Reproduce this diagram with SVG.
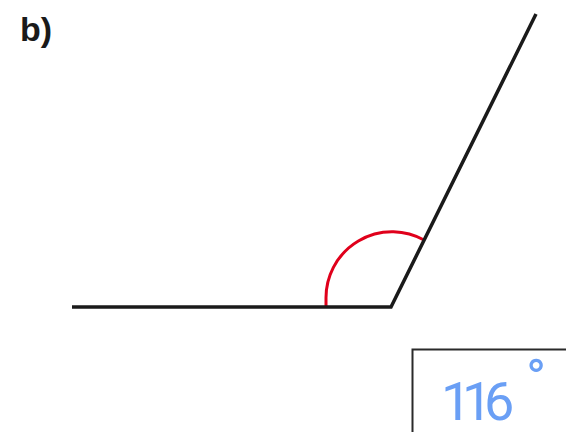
<svg xmlns="http://www.w3.org/2000/svg" width="566" height="432" viewBox="0 0 566 432">
<style>
.ln{stroke:#1a1a1a;stroke-width:3.5;fill:none;stroke-linecap:butt}
.arc{stroke:#e0001b;stroke-width:3;fill:none}
.lbl{font-family:"Liberation Sans",Arial,sans-serif;font-weight:bold;font-size:34px;fill:#1a1a1a}
.ans{font-family:Roboto,"Liberation Sans",Arial,sans-serif;font-size:54px;fill:#6a9ff5}
</style>
<rect width="566" height="432" fill="#ffffff"/>
<g id="label"><text class="lbl" x="20" y="41">b)</text></g>
<g id="connectors">
<path class="arc" d="M326,306 L326,298 A66,66 0 0 1 424,240"/>
<path class="ln" d="M72,307 L391,307 L536,14" stroke-linejoin="miter"/>
</g>
<g id="answer">
<rect x="412.5" y="349.5" width="160" height="100" fill="#ffffff" stroke="#2a2a2a" stroke-width="2"/>
<text class="ans" x="441 462 484" y="420">116</text>
<text class="ans" x="526" y="397" font-size="34">°</text>
</g>
</svg>
